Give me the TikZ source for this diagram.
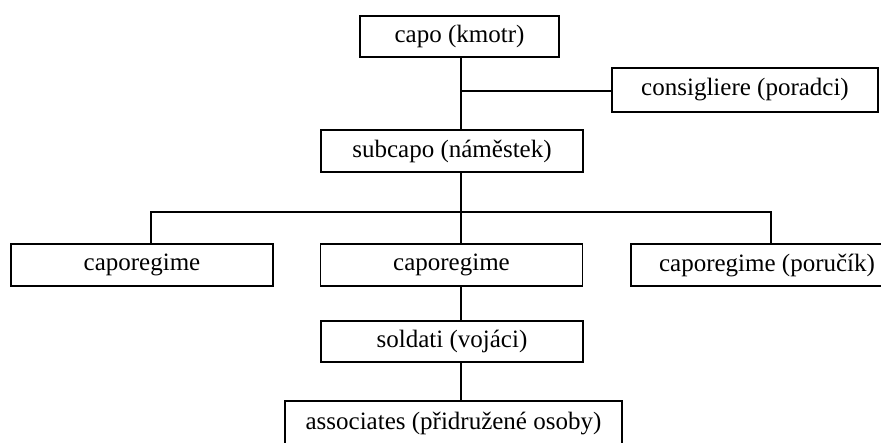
\documentclass[tikz,border=0pt]{standalone}
\usepackage{fontspec}
\setmainfont{Liberation Serif}
\usetikzlibrary{positioning}

\tikzset{
	rank/.style={draw, rectangle, line width=0.9pt, inner sep=0pt,
		font=\fontsize{12.5}{14}\selectfont, minimum height=21pt, minimum width=131pt},
	link/.style={line width=0.9pt}
}

\begin{document}
\begin{tikzpicture}[x=0.5pt, y=-0.5pt, line cap=rect, line join=miter]
		
		% frame of the picture
		\useasboundingbox (0,0) rectangle (881,443);
		\clip (0,0) rectangle (881,443);
		
		% top of the family
		\node[rank, minimum width=99.5pt, minimum height=20.5pt] (capo) at (459.5,36.5) {capo (kmotr)};
		\node[rank, minimum width=133pt, minimum height=22pt] (consig) at (745,90) {consigliere (poradci)};
		\node[rank] (subcapo) at (452,151) {subcapo (náměstek)};
		
		% captains
		\node[rank] (capL) at (142,265) {caporegime};
		\node[rank] (capM) at (451.5,265) {caporegime};
		\node[rank, minimum width=136pt] (capR) at (767,265) {caporegime (poručík)};
		
		% lower ranks
		\node[rank, minimum height=20.5pt] (soldati) at (452,341.5) {soldati (vojáci)};
		\node[rank, minimum width=168.5pt, minimum height=22.5pt] (assoc) at (453.5,423.5) {associates (přidružené osoby)};
		
		% junctions of the lines
		\coordinate (jc) at (461,91);
		\coordinate (js) at (461,212);
		\coordinate (busL) at (151,212);
		\coordinate (busR) at (771,212);
		
		% trunk and side branch
		\draw[link] (capo.south -| jc) -- (subcapo.north -| jc);
		\draw[link] (jc) -- (consig.west |- jc);
		
		% bus to the captains
		\draw[link] (subcapo.south -| js) -- (js);
		\draw[link] (capL.north -| busL) -- (busL) -- (busR) -- (capR.north -| busR);
		\draw[link] (js) -- (capM.north -| js);
		
		% down to soldiers and associates
		\draw[link] (capM.south -| js) -- (soldati.north -| js);
		\draw[link] (soldati.south -| js) -- (assoc.north -| js);
		
	\end{tikzpicture}
\end{document}
